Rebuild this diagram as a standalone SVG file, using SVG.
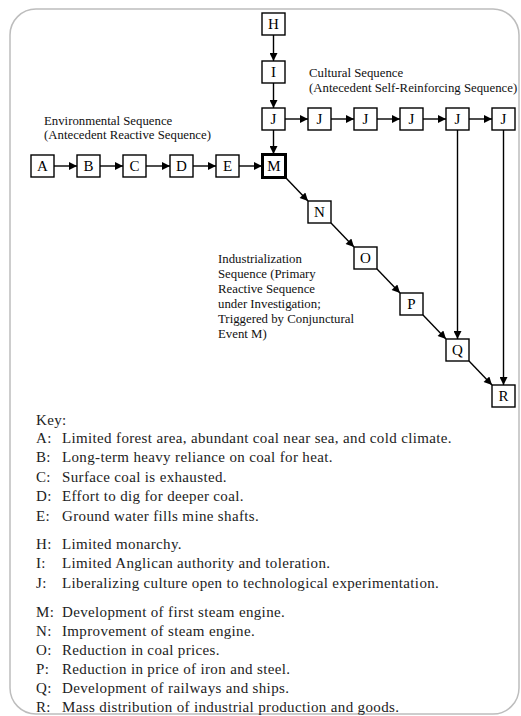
<svg xmlns="http://www.w3.org/2000/svg" width="521" height="716" viewBox="0 0 521 716">
<defs>
<marker id="ah" viewBox="0 0 10 10" refX="10" refY="5" markerWidth="10" markerHeight="8" markerUnits="userSpaceOnUse" orient="auto">
<path d="M0,0 L10,5 L0,10 Z" fill="#000"/>
</marker>
</defs>
<style>
.frame{fill:#fff;stroke:#bdbdbd;stroke-width:1.5}
.box{fill:#fff;stroke:#000;stroke-width:1.4}
.bold{stroke-width:3}
.lbl{font-family:"Liberation Serif","Times New Roman",serif;font-size:15px;fill:#000;text-anchor:middle}
.cap{font-family:"Liberation Serif","Times New Roman",serif;font-size:12.8px;fill:#111}
.key{font-family:"Liberation Serif","Times New Roman",serif;font-size:15px;letter-spacing:0.35px;fill:#222}
.ln{stroke:#000;stroke-width:1.4;fill:none;marker-end:url(#ah)}
</style>
<rect class="frame" x="10" y="9" width="509" height="705" rx="26" ry="26"/>

<g id="connectors">
<line class="ln" x1="54" y1="166" x2="77" y2="166"/>
<line class="ln" x1="100" y1="166" x2="123" y2="166"/>
<line class="ln" x1="146" y1="166" x2="170" y2="166"/>
<line class="ln" x1="193" y1="166" x2="216" y2="166"/>
<line class="ln" x1="239" y1="166" x2="262" y2="166"/>
<line class="ln" x1="273.5" y1="35" x2="273.5" y2="61"/>
<line class="ln" x1="273.5" y1="83" x2="273.5" y2="108"/>
<line class="ln" x1="273.5" y1="130" x2="273.5" y2="154"/>
<line class="ln" x1="285" y1="119" x2="308" y2="119"/>
<line class="ln" x1="331" y1="119" x2="354" y2="119"/>
<line class="ln" x1="377" y1="119" x2="400" y2="119"/>
<line class="ln" x1="423" y1="119" x2="446" y2="119"/>
<line class="ln" x1="469" y1="119" x2="492" y2="119"/>
<line class="ln" x1="457.5" y1="130" x2="457.5" y2="339"/>
<line class="ln" x1="503.5" y1="130" x2="503.5" y2="385"/>
<line class="ln" x1="286" y1="178" x2="308" y2="201"/>
<line class="ln" x1="331" y1="223" x2="354" y2="247"/>
<line class="ln" x1="377" y1="269" x2="400" y2="293"/>
<line class="ln" x1="423" y1="315" x2="446" y2="339"/>
<line class="ln" x1="469" y1="361" x2="492" y2="385"/>
</g>

<g id="A"><rect class="box" x="31" y="155" width="23" height="22"/><text class="lbl" x="42.5" y="171">A</text></g>
<g id="B"><rect class="box" x="77" y="155" width="23" height="22"/><text class="lbl" x="88.5" y="171">B</text></g>
<g id="C"><rect class="box" x="123" y="155" width="23" height="22"/><text class="lbl" x="134.5" y="171">C</text></g>
<g id="D"><rect class="box" x="170" y="155" width="23" height="22"/><text class="lbl" x="181.5" y="171">D</text></g>
<g id="E"><rect class="box" x="216" y="155" width="23" height="22"/><text class="lbl" x="227.5" y="171">E</text></g>
<g id="M"><rect class="box bold" x="262.5" y="154.5" width="23" height="23"/><text class="lbl" x="274" y="171">M</text></g>
<g id="H"><rect class="box" x="262" y="13" width="23" height="22"/><text class="lbl" x="273.5" y="29">H</text></g>
<g id="I"><rect class="box" x="262" y="61" width="23" height="22"/><text class="lbl" x="273.5" y="77">I</text></g>
<g id="J1"><rect class="box" x="262" y="108" width="23" height="22"/><text class="lbl" x="273.5" y="124">J</text></g>
<g id="J2"><rect class="box" x="308" y="108" width="23" height="22"/><text class="lbl" x="319.5" y="124">J</text></g>
<g id="J3"><rect class="box" x="354" y="108" width="23" height="22"/><text class="lbl" x="365.5" y="124">J</text></g>
<g id="J4"><rect class="box" x="400" y="108" width="23" height="22"/><text class="lbl" x="411.5" y="124">J</text></g>
<g id="J5"><rect class="box" x="446" y="108" width="23" height="22"/><text class="lbl" x="457.5" y="124">J</text></g>
<g id="J6"><rect class="box" x="492" y="108" width="23" height="22"/><text class="lbl" x="503.5" y="124">J</text></g>
<g id="N"><rect class="box" x="308" y="201" width="23" height="22"/><text class="lbl" x="319.5" y="217">N</text></g>
<g id="O"><rect class="box" x="354" y="247" width="23" height="22"/><text class="lbl" x="365.5" y="263">O</text></g>
<g id="P"><rect class="box" x="400" y="293" width="23" height="22"/><text class="lbl" x="411.5" y="309">P</text></g>
<g id="Q"><rect class="box" x="446" y="339" width="23" height="22"/><text class="lbl" x="457.5" y="355">Q</text></g>
<g id="R"><rect class="box" x="492" y="385" width="23" height="22"/><text class="lbl" x="503.5" y="401">R</text></g>

<g id="labels">
<text class="cap" x="309" y="77">Cultural Sequence</text>
<text class="cap" x="309" y="92">(Antecedent Self-Reinforcing Sequence)</text>
<text class="cap" x="44" y="125">Environmental Sequence</text>
<text class="cap" x="44" y="139">(Antecedent Reactive Sequence)</text>
<text class="cap" x="218" y="263">Industrialization</text>
<text class="cap" x="218" y="278">Sequence (Primary</text>
<text class="cap" x="218" y="293">Reactive Sequence</text>
<text class="cap" x="218" y="308">under Investigation;</text>
<text class="cap" x="218" y="323">Triggered by Conjunctural</text>
<text class="cap" x="218" y="338">Event M)</text>
</g>

<g id="key">
<text class="key" x="36" y="425">Key:</text>
<text class="key" x="36" y="443">A:</text><text class="key" x="62" y="443">Limited forest area, abundant coal near sea, and cold climate.</text>
<text class="key" x="36" y="462">B:</text><text class="key" x="62" y="462">Long-term heavy reliance on coal for heat.</text>
<text class="key" x="36" y="482">C:</text><text class="key" x="62" y="482">Surface coal is exhausted.</text>
<text class="key" x="36" y="501">D:</text><text class="key" x="62" y="501">Effort to dig for deeper coal.</text>
<text class="key" x="36" y="521">E:</text><text class="key" x="62" y="521">Ground water fills mine shafts.</text>
<text class="key" x="36" y="549">H:</text><text class="key" x="62" y="549">Limited monarchy.</text>
<text class="key" x="36" y="568">I:</text><text class="key" x="62" y="568">Limited Anglican authority and toleration.</text>
<text class="key" x="36" y="588">J:</text><text class="key" x="62" y="588">Liberalizing culture open to technological experimentation.</text>
<text class="key" x="36" y="617">M:</text><text class="key" x="62" y="617">Development of first steam engine.</text>
<text class="key" x="36" y="636">N:</text><text class="key" x="62" y="636">Improvement of steam engine.</text>
<text class="key" x="36" y="655">O:</text><text class="key" x="62" y="655">Reduction in coal prices.</text>
<text class="key" x="36" y="674">P:</text><text class="key" x="62" y="674">Reduction in price of iron and steel.</text>
<text class="key" x="36" y="693">Q:</text><text class="key" x="62" y="693">Development of railways and ships.</text>
<text class="key" x="36" y="712">R:</text><text class="key" x="62" y="712">Mass distribution of industrial production and goods.</text>
</g>
</svg>
